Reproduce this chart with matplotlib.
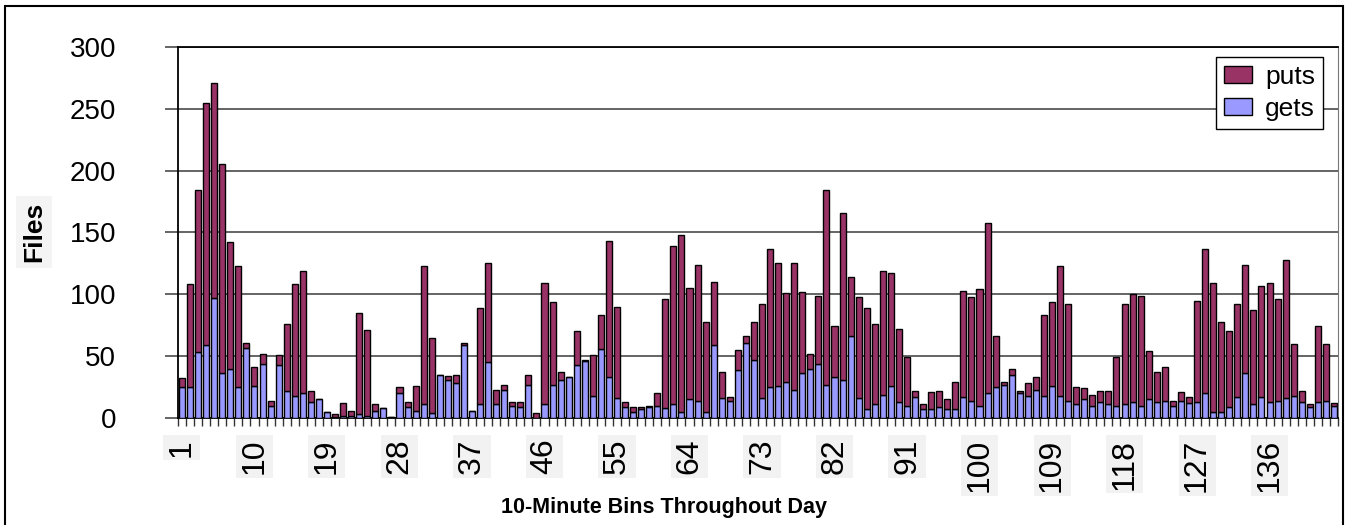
import matplotlib
matplotlib.use("Agg")
import matplotlib.pyplot as plt
from matplotlib.patches import Rectangle
from matplotlib import font_manager
import numpy as np

plt.rcParams["font.family"] = ["Liberation Sans", "DejaVu Sans"]
names = {f.name for f in font_manager.fontManager.ttflist}
NARROW = "Liberation Sans Narrow" if "Liberation Sans Narrow" in names else "Liberation Sans"

# file counts per 10-minute bin (144 bins in a day)
bins = list(range(1, 145))
gets = [25, 25, 53, 59, 97, 36, 40, 25, 57, 26, 44, 10, 43, 22, 18, 20, 13, 15, 5, 1,
        2, 2, 3, 2, 6, 8, 1, 20, 9, 6, 11, 4, 35, 31, 28, 59, 6, 11, 45, 11,
        23, 10, 9, 27, 0, 11, 27, 31, 33, 43, 46, 18, 56, 33, 16, 9, 5, 7, 9, 10,
        8, 11, 5, 15, 14, 5, 59, 16, 14, 39, 61, 47, 16, 25, 26, 29, 23, 36, 40, 44,
        27, 33, 31, 66, 16, 7, 11, 19, 26, 13, 10, 17, 7, 7, 9, 7, 7, 17, 14, 10,
        20, 25, 27, 35, 20, 18, 23, 18, 26, 18, 14, 11, 15, 10, 13, 11, 10, 11, 13, 10,
        15, 13, 14, 10, 14, 12, 13, 20, 5, 5, 9, 17, 36, 11, 17, 13, 14, 16, 18, 13,
        9, 13, 14, 10]
puts = [7, 83, 131, 196, 174, 169, 102, 98, 4, 15, 8, 4, 8, 54, 90, 99, 9, 0, 0, 2,
        10, 4, 82, 69, 5, 0, 0, 5, 4, 20, 112, 61, 0, 3, 7, 2, 0, 78, 80, 12,
        4, 3, 4, 8, 4, 98, 67, 6, 0, 27, 1, 33, 27, 110, 74, 4, 4, 2, 1, 10,
        88, 128, 143, 90, 110, 73, 51, 21, 3, 16, 5, 31, 76, 112, 99, 72, 102, 66, 12, 55,
        157, 41, 135, 48, 82, 82, 65, 100, 91, 59, 39, 5, 4, 14, 13, 8, 22, 86, 84, 94,
        138, 41, 2, 5, 2, 10, 10, 65, 68, 105, 78, 14, 9, 9, 9, 11, 39, 81, 87, 89,
        39, 24, 27, 4, 7, 5, 82, 117, 104, 73, 61, 75, 88, 76, 90, 96, 82, 112, 42, 9,
        2, 61, 46, 2]
label_bins = list(range(1, 145, 9))
y_ticks = [0, 50, 100, 150, 200, 250, 300]

fig = plt.figure(figsize=(13.45, 5.25), dpi=100)
ax = fig.add_axes([0.1323, 0.2038, 0.8625, 0.7067])

x = np.array(bins)
ax.bar(x, gets, width=0.75, color="#9999ff", edgecolor="black", linewidth=1.0,
       label="gets", zorder=3)
ax.bar(x, puts, width=0.75, bottom=gets, color="#993366", edgecolor="black",
       linewidth=1.0, label="puts", zorder=3)

ax.set_xlim(0.5, 144.5)
ax.set_ylim(0, 300)
ax.set_yticks(y_ticks)
ax.yaxis.grid(True, color="#3a3a3a", linewidth=1.1, zorder=0)
ax.tick_params(axis="y", length=9.4, width=1.1, color="#3a3a3a", labelsize=20, pad=35)

# bin labels every 9 bins, boundary ticks for every bin
ax.set_xticks(label_bins)
ax.set_xticklabels([str(b) for b in label_bins], rotation=90, fontsize=23,
                   family=NARROW, va="top", ha="center")
for t in ax.get_xticklabels():
    t.set_bbox(dict(facecolor="#f2f2f2", edgecolor="none", pad=2.5))
ax.set_xticks(np.arange(0.5, 145, 1), minor=True)
ax.tick_params(axis="x", which="major", length=0, pad=15)
ax.tick_params(axis="x", which="minor", length=5.8, width=1.0, color="#333333")

for side in ("top", "left", "bottom"):
    ax.spines[side].set_color("black")
    ax.spines[side].set_linewidth(1.3)
ax.spines["right"].set_color("#777777")

fig.text(34 / 1345, 1 - 232 / 525, "Files", rotation=90, fontsize=19,
         fontweight="bold", family=NARROW, ha="center", va="center",
         bbox=dict(facecolor="#f4f4f4", edgecolor="none", pad=4))
fig.text(664 / 1345, 1 - 508 / 525, "10-Minute Bins Throughout Day", fontsize=15.5,
         fontweight="bold", ha="center", va="center")

handles, labels = ax.get_legend_handles_labels()
leg = ax.legend(handles[::-1], labels[::-1], loc="upper right",
                bbox_to_anchor=(0.987, 0.973), fontsize=19, frameon=True,
                fancybox=False, edgecolor="black", framealpha=1,
                handlelength=1.05, handleheight=0.6, handletextpad=0.5,
                labelspacing=0.3, borderpad=0.3, borderaxespad=0)
leg.get_frame().set_linewidth(1.0)

# outer frame
fig.patches.append(Rectangle((5 / 1345, -0.01), 1338 / 1345, 1 - 6 / 525 + 0.01,
                             transform=fig.transFigure, fill=False,
                             edgecolor="black", linewidth=1.5))

fig.savefig("out.png", dpi=100)
